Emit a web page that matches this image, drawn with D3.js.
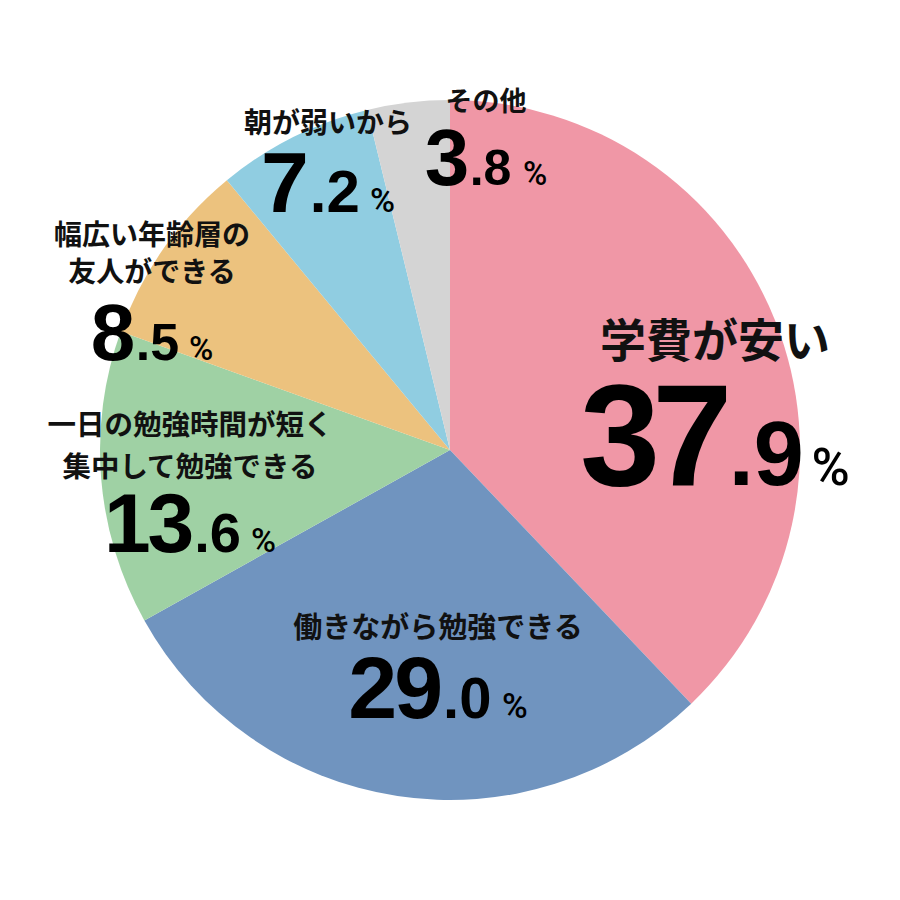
<!DOCTYPE html>
<html><head><meta charset="utf-8">
<script src="https://cdn.jsdelivr.net/npm/d3@7/dist/d3.min.js"></script>
<style>html,body{margin:0;padding:0;background:#fff}</style>
</head><body>
<svg id="chart" width="900" height="900"></svg>
<script>
// Data
const categories = ["学費が安い", "働きながら勉強できる", "一日の勉強時間が短く\n集中して勉強できる", "幅広い年齢層の\n友人ができる", "朝が弱いから", "その他"];
const values = [37.9, 29.0, 13.6, 8.5, 7.2, 3.8];
const colors = ["#F097A6", "#7094BF", "#9FD1A4", "#ECC27E", "#90CDE1", "#D4D4D4"];

// Label layout (presentation only)
const layout = [
  {x: 715, ly: 357, lf: 46, lh: 0, ny: 485, big: 144, dec: 90, pct: 52, ls: -8, pd: 0.15},
  {x: 438, ly: 638, lf: 29, lh: 0, ny: 718, big: 88, dec: 58, pct: 35, ls: -3, pd: 0.3},
  {x: 190, ly: 435, lf: 28.5, lh: 42, ny: 552, big: 84, dec: 56, pct: 34, ls: -3, pd: 0.3},
  {x: 152, ly: 245, lf: 28, lh: 37, ny: 360, big: 80, dec: 52, pct: 33, ls: -2, pd: 0.3},
  {x: 328, ly: 133, lf: 28, lh: 0, ny: 212, big: 86, dec: 60, pct: 34, ls: -2, pd: 0.3},
  {x: 486, ly: 111, lf: 27, lh: 0, ny: 185, big: 80, dec: 50, pct: 33, ls: -2, pd: 0.35}
];

const svg = d3.select("#chart");
const cx = 450, cy = 450, R = 350;
const g = svg.append("g").attr("transform", `translate(${cx},${cy})`);

const pie = d3.pie().sort(null).value(d => d)(values);
const arc = d3.arc().innerRadius(0).outerRadius(R);

g.selectAll("path").data(pie).enter().append("path")
  .attr("d", arc)
  .attr("fill", (d, i) => colors[i]);

const jp = "'Noto Sans CJK JP','Noto Sans',sans-serif";
const num = "'Liberation Sans',Arial,Helvetica,sans-serif";

categories.forEach((c, i) => {
  const L = layout[i];
  const lines = c.split("\n");
  lines.forEach((t, k) => {
    svg.append("text")
      .attr("x", L.x).attr("y", L.ly + k * L.lh)
      .attr("text-anchor", "middle")
      .attr("font-family", jp).attr("font-weight", 700)
      .attr("font-size", L.lf).attr("fill", "#111")
      .text(t);
  });
  const s = values[i].toFixed(1).split(".");
  const t = svg.append("text")
    .attr("x", L.x).attr("y", L.ny)
    .attr("text-anchor", "middle")
    .attr("font-family", num).attr("font-weight", 700).attr("fill", "#000");
  t.append("tspan").attr("font-size", L.big).attr("letter-spacing", L.ls).text(s[0]);
  t.append("tspan").attr("font-size", L.dec).attr("dx", L.dec * 0.05).text("." + s[1]);
  t.append("tspan").attr("font-size", L.pct).attr("dx", L.pct * L.pd)
    .attr("font-family", "Roboto,'Liberation Sans',sans-serif").attr("font-weight", 500).text("%");
});
</script>
</body></html>
